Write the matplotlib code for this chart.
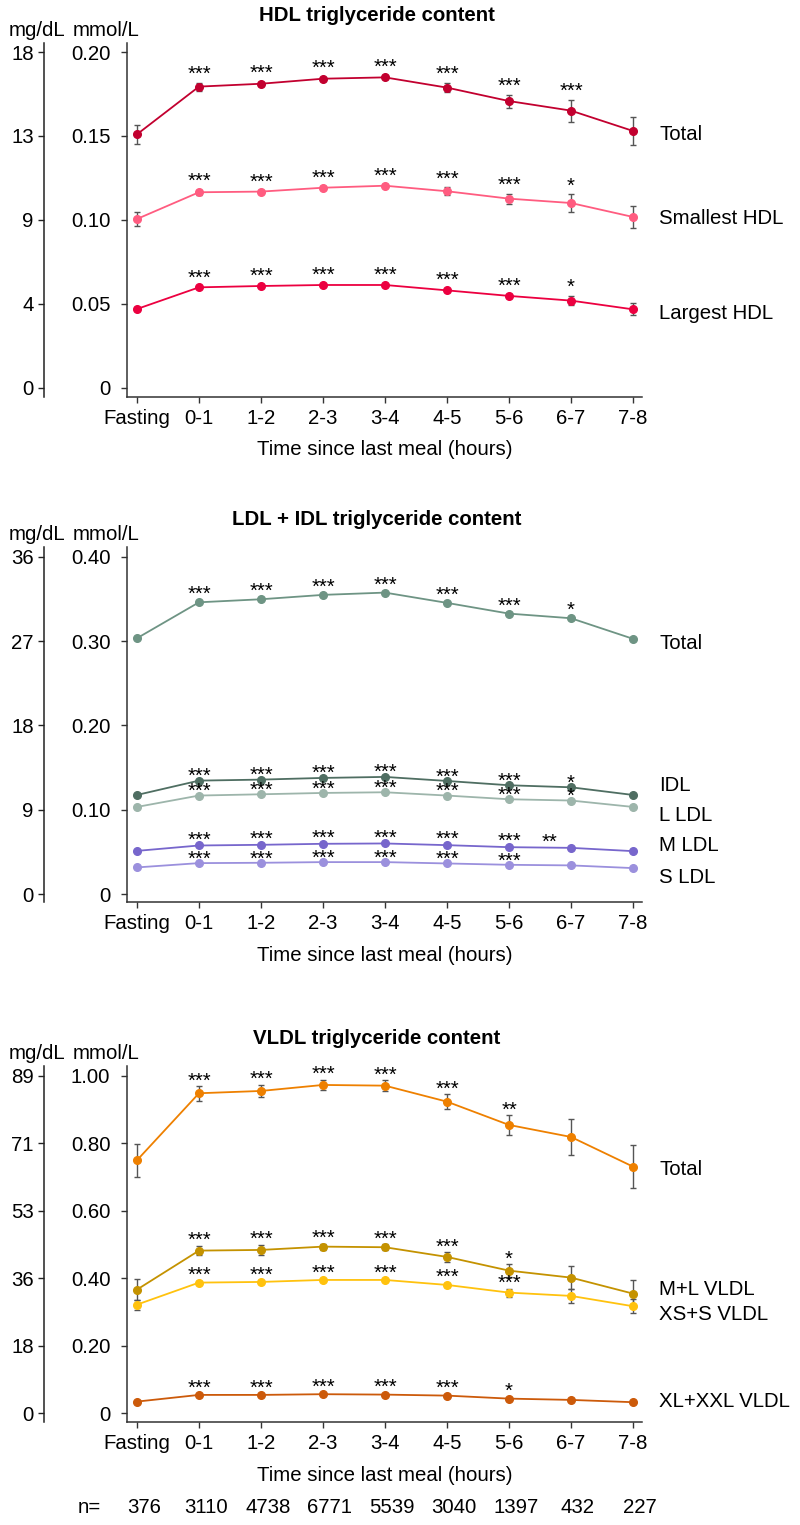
import numpy as np
import matplotlib
matplotlib.use("Agg")
import matplotlib.pyplot as plt

plt.rcParams['font.family'] = ['Liberation Sans', 'DejaVu Sans']

# ---- data (mmol/L) ----
times = ["Fasting", "0-1", "1-2", "2-3", "3-4", "4-5", "5-6", "6-7", "7-8"]
n_counts = ["376", "3110", "4738", "6771", "5539", "3040", "1397", "432", "227"]

# HDL
hdl_total = [0.1510, 0.1794, 0.1811, 0.1841, 0.1849, 0.1788, 0.1708, 0.1651, 0.1530]
hdl_total_err = [0.0057, 0.0024, 0.0012, 0.0012, 0.0012, 0.0027, 0.0039, 0.0066, 0.0086]
hdl_total_sig = ["", "***", "***", "***", "***", "***", "***", "***", ""]
hdl_small = [0.1006, 0.1165, 0.1169, 0.1192, 0.1204, 0.1171, 0.1127, 0.1101, 0.1018]
hdl_small_err = [0.0042, 0.0015, 0.0008, 0.0008, 0.0008, 0.0023, 0.0030, 0.0052, 0.0066]
hdl_small_sig = ["", "***", "***", "***", "***", "***", "***", "*", ""]
hdl_large = [0.0470, 0.0599, 0.0607, 0.0613, 0.0613, 0.0581, 0.0548, 0.0520, 0.0468]
hdl_large_err = [0.0012, 0.0006, 0.0006, 0.0006, 0.0006, 0.0008, 0.0010, 0.0029, 0.0035]
hdl_large_sig = ["", "***", "***", "***", "***", "***", "***", "*", ""]

# LDL + IDL
ldl_total = [0.3033, 0.3459, 0.3495, 0.3547, 0.3574, 0.3452, 0.3325, 0.3270, 0.3026]
ldl_total_sig = ["", "***", "***", "***", "***", "***", "***", "*", ""]
idl = [0.1175, 0.1345, 0.1357, 0.1377, 0.1389, 0.1341, 0.1290, 0.1266, 0.1175]
idl_sig = ["", "***", "***", "***", "***", "***", "***", "*", ""]
l_ldl = [0.1033, 0.1168, 0.1183, 0.1199, 0.1207, 0.1168, 0.1124, 0.1109, 0.1033]
l_ldl_sig = ["", "***", "***", "***", "***", "***", "***", "*", ""]
m_ldl = [0.0512, 0.0576, 0.0584, 0.0596, 0.0600, 0.0580, 0.0556, 0.0548, 0.0509]
m_ldl_sig = ["", "***", "***", "***", "***", "***", "***", "**", ""]
s_ldl = [0.0316, 0.0367, 0.0371, 0.0379, 0.0379, 0.0363, 0.0347, 0.0340, 0.0308]
s_ldl_sig = ["", "***", "***", "***", "***", "***", "***", "", ""]

# VLDL
vldl_total = [0.7494, 0.9479, 0.9547, 0.9725, 0.9704, 0.9230, 0.8540, 0.8184, 0.7305]
vldl_total_err = [0.049, 0.022, 0.019, 0.016, 0.017, 0.022, 0.030, 0.052, 0.063]
vldl_total_sig = ["", "***", "***", "***", "***", "***", "**", "", ""]
vldl_ml = [0.3662, 0.4817, 0.4837, 0.4935, 0.4917, 0.4630, 0.4224, 0.4017, 0.3543]
vldl_ml_err = [0.030, 0.014, 0.015, 0.009, 0.009, 0.014, 0.019, 0.034, 0.040]
vldl_ml_sig = ["", "***", "***", "***", "***", "***", "*", "", ""]
vldl_xss = [0.3217, 0.3869, 0.3889, 0.3948, 0.3948, 0.3800, 0.3573, 0.3475, 0.3169]
vldl_xss_err = [0.015, 0.004, 0.004, 0.004, 0.004, 0.006, 0.012, 0.020, 0.021]
vldl_xss_sig = ["", "***", "***", "***", "***", "***", "***", "", ""]
vldl_xl = [0.0344, 0.0542, 0.0542, 0.0563, 0.0551, 0.0521, 0.0432, 0.0394, 0.0326]
vldl_xl_sig = ["", "***", "***", "***", "***", "***", "*", "", ""]

# axis ticks
hdl_ticks = [0, 0.05, 0.10, 0.15, 0.20]
hdl_mmol = ["0", "0.05", "0.10", "0.15", "0.20"]
hdl_mgdl = ["0", "4", "9", "13", "18"]
ldl_ticks = [0, 0.10, 0.20, 0.30, 0.40]
ldl_mmol = ["0", "0.10", "0.20", "0.30", "0.40"]
ldl_mgdl = ["0", "9", "18", "27", "36"]
vldl_ticks = [0, 0.20, 0.40, 0.60, 0.80, 1.00]
vldl_mmol = ["0", "0.20", "0.40", "0.60", "0.80", "1.00"]
vldl_mgdl = ["0", "18", "36", "53", "71", "89"]

FS = 14.7
AX_COL = '#333333'


def draw_panel(ax, title, series, ticks, mmol, mgdl, ylim):
    x = np.arange(len(times))
    for s in series:
        vals, err, sig, color, label, label_y, star_off = s[:7]
        star_dx = s[7] if len(s) > 7 else {}
        ax.errorbar(x, vals, yerr=err, color=color, ecolor='#555555',
                    elinewidth=1, capsize=2.5, capthick=1, marker='o',
                    ms=5.5, lw=1.3, zorder=3)
        e = err if err is not None else [0] * len(vals)
        for xi, (v, ee, st) in enumerate(zip(vals, e, sig)):
            if st:
                ax.annotate(st, xy=(xi + star_dx.get(xi, 0), v + ee),
                            xytext=(0, star_off), textcoords='offset points',
                            ha='center', va='baseline', fontsize=14.5,
                            zorder=4)
        ax.text(8.42, label_y, label, ha='left', va='center', fontsize=FS)

    ax.set_xlim(-0.161, 8.145)
    ax.set_ylim(*ylim)
    ax.set_xticks(x, labels=times)
    ax.set_yticks(ticks, labels=mmol)
    ax.spines['top'].set_visible(False)
    ax.spines['right'].set_visible(False)
    for sp in ('left', 'bottom'):
        ax.spines[sp].set_color(AX_COL)
        ax.spines[sp].set_linewidth(1.1)
    ax.tick_params(axis='both', direction='out', length=4.5, width=1,
                   color=AX_COL, labelsize=FS)
    ax.tick_params(axis='x', pad=4)
    ax.tick_params(axis='y', pad=7.5)
    ax.set_xlabel("Time since last meal (hours)", fontsize=FS, labelpad=9)

    sec = ax.secondary_yaxis(-0.161)
    sec.set_yticks(ticks, labels=mgdl)
    sec.spines['left'].set_color('#222222')
    sec.spines['left'].set_linewidth(1.1)
    sec.tick_params(direction='out', length=4.5, width=1, color='#222222',
                    labelsize=FS, pad=3)

    ax.annotate("mg/dL", xy=(-0.174, 1), xycoords='axes fraction',
                xytext=(0, 9), textcoords='offset points',
                ha='center', va='center', fontsize=FS)
    ax.annotate("mmol/L", xy=(-0.041, 1), xycoords='axes fraction',
                xytext=(0, 9), textcoords='offset points',
                ha='center', va='center', fontsize=FS)
    ax.annotate(title, xy=(0.4854, 1), xycoords='axes fraction',
                xytext=(0, 19.5), textcoords='offset points',
                ha='center', va='center', fontsize=FS, fontweight='bold')


fig = plt.figure(figsize=(8, 15.25), dpi=100)
ax1 = fig.add_axes([0.15875, 0.7397, 0.64375, 0.2321])
ax2 = fig.add_axes([0.15875, 0.4083, 0.64375, 0.2332])
ax3 = fig.add_axes([0.15875, 0.0674, 0.64375, 0.2336])

draw_panel(ax1, "HDL triglyceride content", [
    (hdl_total, hdl_total_err, hdl_total_sig, '#C2002F', "Total", 0.1510, 2),
    (hdl_small, hdl_small_err, hdl_small_sig, '#FF5C80', "Smallest HDL", 0.1010, 2),
    (hdl_large, hdl_large_err, hdl_large_sig, '#EC0040', "Largest HDL", 0.0445, 2),
], hdl_ticks, hdl_mmol, hdl_mgdl, (-0.00536, 0.20536))

draw_panel(ax2, "LDL + IDL triglyceride content", [
    (ldl_total, None, ldl_total_sig, '#6E9484', "Total", 0.2970, 1.5),
    (idl, None, idl_sig, '#4F6E62', "IDL", 0.1290, -1.0),
    (l_ldl, None, l_ldl_sig, '#9DB5AB', "L LDL", 0.0935, -1.2),
    (m_ldl, None, m_ldl_sig, '#7766CC', "M LDL", 0.0571, 0, {7: -0.35}),
    (s_ldl, None, s_ldl_sig, '#9B90DD', "S LDL", 0.0193, -1.2),
], ldl_ticks, ldl_mmol, ldl_mgdl, (-0.0098, 0.4118))

draw_panel(ax3, "VLDL triglyceride content", [
    (vldl_total, vldl_total_err, vldl_total_sig, '#EE8000', "Total", 0.7208, -0.5),
    (vldl_ml, vldl_ml_err, vldl_ml_sig, '#C49200', "M+L VLDL", 0.3670, -0.2),
    (vldl_xss, vldl_xss_err, vldl_xss_sig, '#FFC20E', "XS+S VLDL", 0.2910, 0),
    (vldl_xl, None, vldl_xl_sig, '#CC5A0A', "XL+XXL VLDL", 0.0344, 1.0),
], vldl_ticks, vldl_mmol, vldl_mgdl, (-0.0267, 1.0287))

# sample sizes under the last panel
ax3.annotate("n=", xy=(-0.77, 0), xycoords=('data', 'axes fraction'),
             xytext=(0, -61.5), textcoords='offset points',
             ha='center', va='center', fontsize=FS)
for xi, n in enumerate(n_counts):
    ax3.annotate(n, xy=(xi + 0.11, 0), xycoords=('data', 'axes fraction'),
                 xytext=(0, -61.5), textcoords='offset points',
                 ha='center', va='center', fontsize=FS)

fig.savefig("out.png", dpi=100)
